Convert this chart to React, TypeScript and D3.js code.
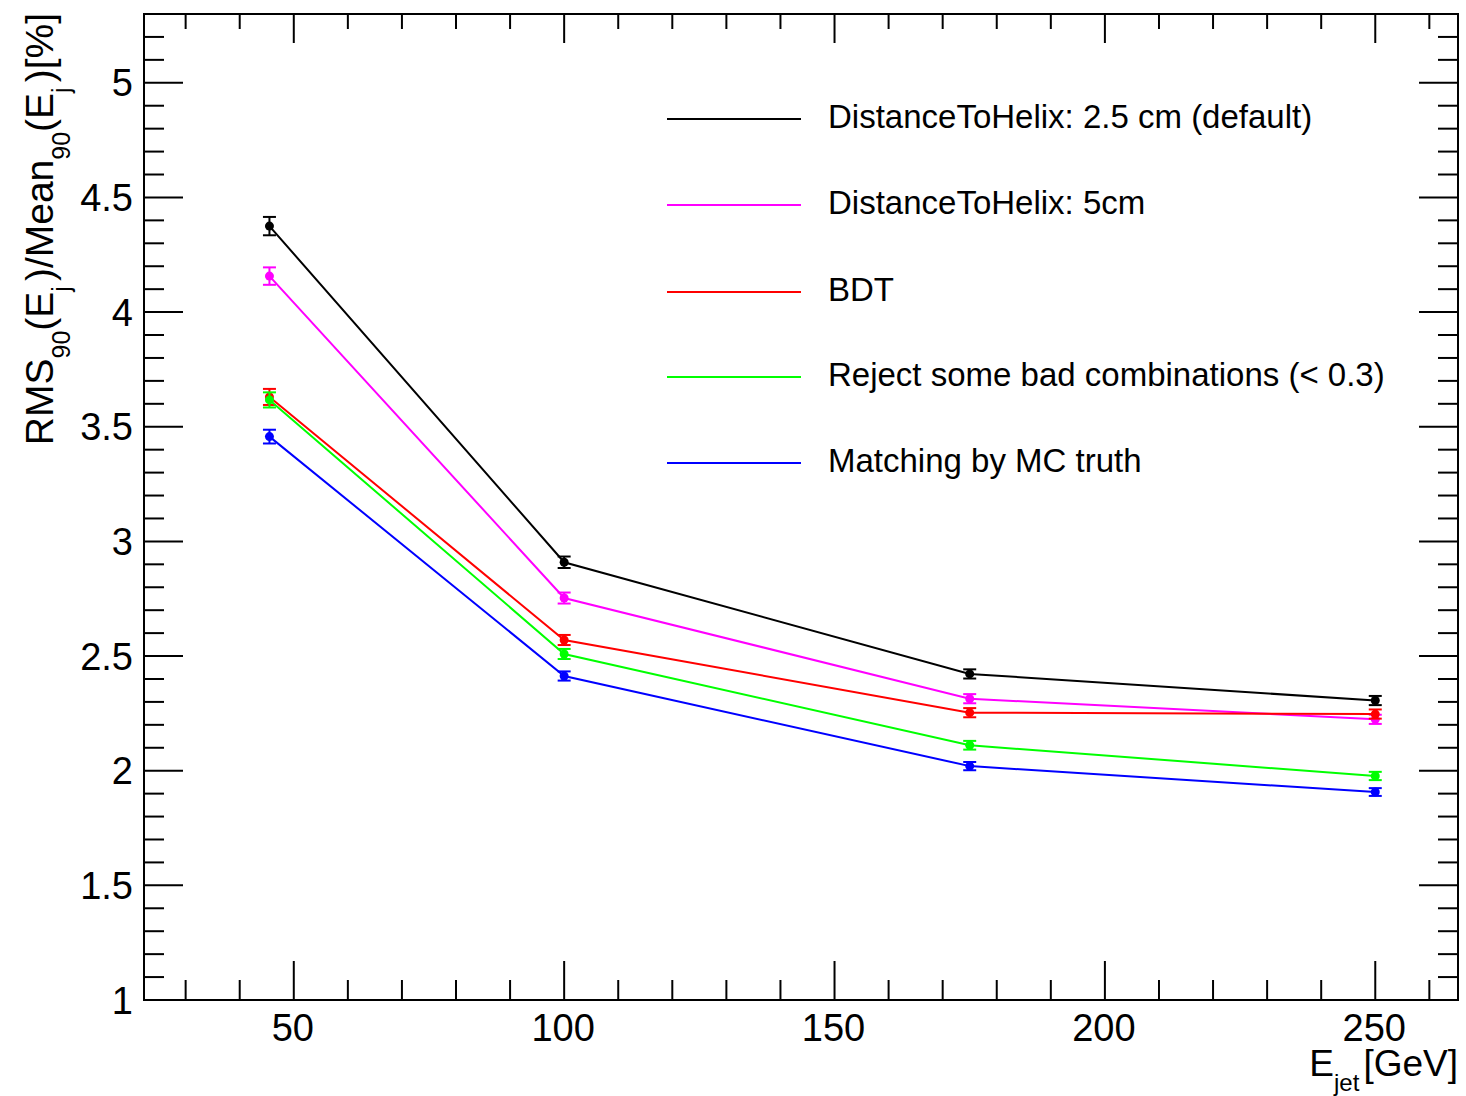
import React from "react";
import * as d3 from "d3";

const energies = [45.5, 100, 175, 250];

const seriesNames = [
  "DistanceToHelix: 2.5 cm (default)",
  "DistanceToHelix: 5cm",
  "BDT",
  "Reject some bad combinations (< 0.3)",
  "Matching by MC truth",
];
const seriesColors = ["#000000", "#ff00ff", "#ff0000", "#00ff00", "#0000ff"];

const valuesDefault = [4.375, 2.909, 2.422, 2.306];
const valuesFiveCm = [4.157, 2.753, 2.314, 2.224];
const valuesBDT = [3.63, 2.57, 2.253, 2.247];
const valuesReject = [3.617, 2.509, 2.111, 1.977];
const valuesMCTruth = [3.457, 2.413, 2.02, 1.907];

const errorsDefault = [0.04, 0.025, 0.02, 0.02];
const errorsFiveCm = [0.038, 0.024, 0.02, 0.02];
const errorsBDT = [0.035, 0.022, 0.02, 0.02];
const errorsReject = [0.033, 0.022, 0.019, 0.018];
const errorsMCTruth = [0.03, 0.02, 0.018, 0.017];

const allValues = [valuesDefault, valuesFiveCm, valuesBDT, valuesReject, valuesMCTruth];
const allErrors = [errorsDefault, errorsFiveCm, errorsBDT, errorsReject, errorsMCTruth];

const xMajorTicks = [50, 100, 150, 200, 250];
const yMajorTicks = [1, 1.5, 2, 2.5, 3, 3.5, 4, 4.5, 5];

const W = 1466;
const H = 1096;
const L = 144;
const R = 1458;
const T = 14;
const B = 1000;
const FONT = "'Liberation Sans', Arial, Helvetica, sans-serif";

export default function App() {
  const x = d3.scaleLinear().domain([22.3, 265.3]).range([L, R]);
  const y = d3.scaleLinear().domain([1, 5.3]).range([B, T]);

  const xMinor = d3.range(30, 265, 10).filter((v) => v % 50 !== 0);
  const yMinor = d3.range(10, 54, 1).map((v) => v / 10).filter((v) => Math.round(v * 10) % 5 !== 0);

  const line = d3
    .line<number>()
    .x((_, i) => x(energies[i]))
    .y((d) => y(d));

  const legendRows = [119, 205, 292, 377, 463];

  return (
    <svg width={W} height={H} style={{ position: "absolute", left: 0, top: 0, background: "#fff" }} fontFamily={FONT}>
      <rect x={0} y={0} width={W} height={H} fill="#fff" />
      {/* ticks */}
      <g stroke="#000" strokeWidth={2}>
        {xMajorTicks.map((v) => (
          <g key={"xM" + v}>
            <line x1={x(v)} x2={x(v)} y1={B} y2={B - 39} />
            <line x1={x(v)} x2={x(v)} y1={T} y2={T + 29} />
          </g>
        ))}
        {xMinor.map((v) => (
          <g key={"xm" + v}>
            <line x1={x(v)} x2={x(v)} y1={B} y2={B - 20} />
            <line x1={x(v)} x2={x(v)} y1={T} y2={T + 15} />
          </g>
        ))}
        {yMajorTicks.map((v) => (
          <g key={"yM" + v}>
            <line x1={L} x2={L + 39} y1={y(v)} y2={y(v)} />
            <line x1={R} x2={R - 39} y1={y(v)} y2={y(v)} />
          </g>
        ))}
        {yMinor.map((v) => (
          <g key={"ym" + v}>
            <line x1={L} x2={L + 20} y1={y(v)} y2={y(v)} />
            <line x1={R} x2={R - 20} y1={y(v)} y2={y(v)} />
          </g>
        ))}
      </g>
      <rect x={L} y={T} width={R - L} height={B - T} fill="none" stroke="#000" strokeWidth={2} />

      {/* tick labels */}
      <g fontSize={38} fill="#000">
        {xMajorTicks.map((v) => (
          <text key={"xl" + v} x={x(v) - 1} y={1041} textAnchor="middle">
            {v}
          </text>
        ))}
        {yMajorTicks.map((v) => (
          <text key={"yl" + v} x={133} y={y(v)} dy="0.36em" textAnchor="end">
            {v}
          </text>
        ))}
      </g>

      {/* axis titles */}
      <text x={R} y={1076} textAnchor="end" fontSize={37} fill="#000">
        E
        <tspan fontSize={24} dy={15}>jet</tspan>
        <tspan dy={-15} dx={4}>[GeV]</tspan>
      </text>
      <text transform={`translate(53, ${T - 1}) rotate(-90)`} textAnchor="end" fontSize={39} fill="#000">
        RMS
        <tspan fontSize={25} dy={17}>90</tspan>
        <tspan dy={-17}>(E</tspan>
        <tspan fontSize={25} dy={17}>j</tspan>
        <tspan dy={-17} dx={5}>)/Mean</tspan>
        <tspan fontSize={25} dy={17}>90</tspan>
        <tspan dy={-17}>(E</tspan>
        <tspan fontSize={25} dy={17}>j</tspan>
        <tspan dy={-17} dx={5}>)[%]</tspan>
      </text>

      {/* series */}
      {allValues.map((vals, s) => (
        <g key={"s" + s}>
          <path d={line(vals) || ""} fill="none" stroke={seriesColors[s]} strokeWidth={2} />
          {vals.map((v, i) => {
            const cx = x(energies[i]);
            const e = allErrors[s][i];
            const y1 = y(v + e);
            const y2 = y(v - e);
            return (
              <g key={i} stroke={seriesColors[s]} strokeWidth={2}>
                <line x1={cx} x2={cx} y1={y1} y2={y2} />
                <line x1={cx - 6.5} x2={cx + 6.5} y1={y1} y2={y1} />
                <line x1={cx - 6.5} x2={cx + 6.5} y1={y2} y2={y2} />
                <circle cx={cx} cy={y(v)} r={4.5} fill={seriesColors[s]} stroke="none" />
              </g>
            );
          })}
        </g>
      ))}

      {/* legend */}
      {seriesNames.map((name, i) => (
        <g key={"lg" + i}>
          <line x1={667} x2={801} y1={legendRows[i]} y2={legendRows[i]} stroke={seriesColors[i]} strokeWidth={2} />
          <text x={828} y={legendRows[i]} dy="0.28em" fontSize={33} fill="#000">
            {name}
          </text>
        </g>
      ))}
    </svg>
  );
}
